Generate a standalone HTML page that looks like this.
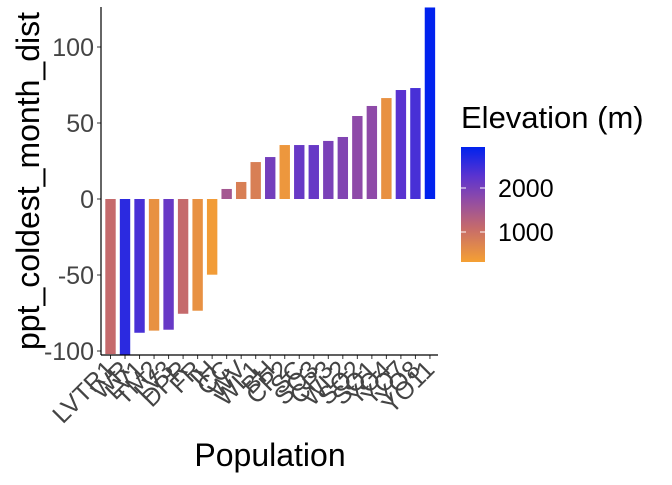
<!DOCTYPE html>
<html><head><meta charset="utf-8"><style>
body{margin:0;background:#fff;}
svg text{font-family:"Liberation Sans",Arial,sans-serif;}
</style></head><body>
<svg id="chart" width="672" height="480">
<defs><linearGradient id="lg" x1="0" y1="1" x2="0" y2="0">
<stop offset="0" stop-color="#F5A033"/><stop offset="0.3" stop-color="#C56A6C"/><stop offset="0.55" stop-color="#8E4AA8"/><stop offset="0.75" stop-color="#5A33D0"/><stop offset="1" stop-color="#0022EE"/>
</linearGradient></defs>
<g id="bars"></g>
<g id="axes"></g>
<text x="270" y="466" font-size="32" text-anchor="middle" fill="#000">Population</text>
<text transform="translate(39,181) rotate(-90)" font-size="32" text-anchor="middle" fill="#000">ppt_coldest_month_dist</text>
<text x="461" y="128" font-size="31" fill="#000">Elevation (m)</text>
<rect x="461" y="147" width="24" height="115" fill="url(#lg)"/>
<g id="legend"></g>
</svg>
<script>
const categories=["LVTR1","WR","LV1","TM2","LV3","DPR","FR","IH","CC","WV","WL1","BH","CP2","SC","SQ3","CP3","WL2","SQ2","SQ1","YO4","YO7","YO8","YO11"];
const values=[-102,-103,-88,-86.6,-86,-75.5,-73.5,-49.8,6.6,11.2,24.3,27.6,35.5,35.5,35.5,38.2,40.8,54.6,61.2,66.4,71.7,73,126];
const elevations=[1100,2620,2410,530,2150,1100,530,370,1500,790,790,2020,450,2150,2150,1960,1890,1760,1760,530,2280,2410,2930];
const yTicks=[-100,-50,0,50,100];
const legendTicks=[1000,2000];
const NS="http://www.w3.org/2000/svg";
const y=v=>199-v*1.52;
const x=i=>110.5+i*14.52;
const eMin=318,eMax=2932;
const stops=[[0,[245,160,51]],[0.3,[197,106,108]],[0.55,[142,74,168]],[0.75,[90,51,208]],[1,[0,34,238]]];
function col(e){let t=Math.max(0,Math.min(1,(e-eMin)/(eMax-eMin)));for(let k=1;k<stops.length;k++){if(t<=stops[k][0]){const a=stops[k-1],b=stops[k];const f=(t-a[0])/(b[0]-a[0]);return "rgb("+a[1].map((c,j)=>Math.round(c+(b[1][j]-c)*f)).join(",")+")";}}return "rgb(0,34,238)";}
function mk(tag,attrs,parent){const el=document.createElementNS(NS,tag);for(const k in attrs)el.setAttribute(k,attrs[k]);parent.appendChild(el);return el;}
const bars=document.getElementById('bars'),axes=document.getElementById('axes'),legend=document.getElementById('legend');
const yBot=355;
values.forEach((v,i)=>{
 const top=Math.max(7,y(Math.max(v,0))),bot=Math.min(yBot,y(Math.min(v,0)));
 const r=mk('rect',{x:x(i)-5.2,y:top,width:10.4,height:bot-top,fill:col(elevations[i])},bars);
 
 
 const t=mk('line',{x1:x(i),x2:x(i),y1:yBot,y2:yBot+4,stroke:'#333','stroke-width':1},axes);
 
 
 const lb=mk('text',{transform:`translate(${x(i)+6},${yBot+16}) rotate(-45)`,'font-size':25,'text-anchor':'end',fill:'#444'},axes);
 lb.textContent=categories[i];
 
 
});
yTicks.forEach(v=>{
 const t=mk('line',{x1:97,x2:101,y1:y(v),y2:y(v),stroke:'#333','stroke-width':1},axes);
 
 
 const lb=mk('text',{x:94,y:y(v)+9,'font-size':25,'text-anchor':'end',fill:'#444'},axes);
 lb.textContent=v;
 
 
});
const ya=mk('line',{x1:101,x2:101,y1:7,y2:yBot,stroke:'#000','stroke-width':1.2},axes);


const xa=mk('line',{x1:101,x2:438,y1:yBot,y2:yBot,stroke:'#000','stroke-width':1.2},axes);


legendTicks.forEach(e=>{
 const ly=262-(e-eMin)/(eMax-eMin)*115;
 const l=mk('line',{x1:461,x2:466,y1:ly,y2:ly,stroke:'#fff','stroke-width':1},legend);
 
 
 const l2=mk('line',{x1:480,x2:485,y1:ly,y2:ly,stroke:'#fff','stroke-width':1},legend);
 
 
 const lb=mk('text',{x:498,y:ly+9,'font-size':25,fill:'#000'},legend);
 lb.textContent=e;
 
 
});
</script>
</body></html>
